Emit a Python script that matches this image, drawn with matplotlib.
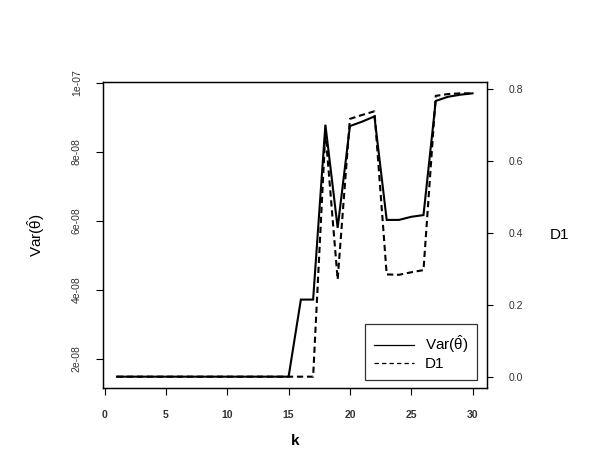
import numpy as np
import matplotlib
matplotlib.use("Agg")
import matplotlib.pyplot as plt
from matplotlib.lines import Line2D

plt.rcParams['font.family'] = ['Liberation Sans', 'DejaVu Sans']
plt.rcParams['mathtext.fontset'] = 'custom'
plt.rcParams['mathtext.rm'] = 'Liberation Sans'
plt.rcParams['mathtext.it'] = 'Liberation Sans:italic'

# data
k = list(range(1, 31))
var_theta = [1.485e-08] * 15 + [3.72e-08, 3.72e-08, 8.79e-08, 5.80e-08, 8.75e-08,
                                8.88e-08, 9.03e-08, 6.03e-08, 6.03e-08, 6.12e-08,
                                6.17e-08, 9.48e-08, 9.60e-08, 9.66e-08, 9.70e-08]
d1 = [0.0] * 17 + [0.68, 0.27, 0.716, 0.727, 0.737, 0.284, 0.283, 0.29,
                   0.296, 0.78, 0.785, 0.787, 0.787]

left_ticks = [2e-08, 4e-08, 6e-08, 8e-08, 1e-07]
left_labels = ["2e-08", "4e-08", "6e-08", "8e-08", "1e-07"]
right_ticks = [0.0, 0.2, 0.4, 0.6, 0.8]
right_labels = ["0.0", "0.2", "0.4", "0.6", "0.8"]
x_ticks = [0, 5, 10, 15, 20, 25, 30]


def rlim(vals):
    # R style 4% padding
    lo, hi = min(vals), max(vals)
    pad = 0.04 * (hi - lo)
    return lo - pad, hi + pad


fig = plt.figure(figsize=(5.89, 4.71), dpi=100)
ax1 = fig.add_axes([0.1744, 0.1762, 0.652, 0.6497])
ax2 = ax1.twinx()

tick_col = '#333333'
ax1.plot(k, var_theta, color='black', lw=1.5, solid_joinstyle='miter')
ax1.set_xlim(rlim(k))
ax1.set_ylim(rlim(var_theta))
ax1.set_xticks(x_ticks)
ax1.set_xticklabels([str(t) for t in x_ticks], fontsize=7.5, fontweight='bold', color=tick_col)
ax1.set_yticks(left_ticks)
ax1.set_yticklabels(left_labels, fontsize=7.5, rotation=90, va='center', color=tick_col)
ax1.tick_params(axis='x', length=5, width=0.8, pad=11)
ax1.tick_params(axis='y', length=5, width=0.8, pad=10)
ax1.set_xlabel('k', fontsize=11, fontweight='bold', labelpad=10)
ax1.set_ylabel(r'$\mathrm{Var}(\hat{\mathrm{\theta}})$', fontsize=11, labelpad=18)

ax2.plot(k, d1, color='black', lw=1.5, dashes=(3, 1.8))
ax2.set_ylim(rlim(d1))
ax2.set_yticks(right_ticks)
ax2.set_yticklabels(right_labels, fontsize=7.5, color=tick_col)
ax2.tick_params(axis='y', length=4, width=0.8, pad=12)
ax2.set_ylabel('D1', fontsize=11, rotation=0, va='center', labelpad=26)

for ax in (ax1, ax2):
    for s in ax.spines.values():
        s.set_linewidth(0.9)

handles = [Line2D([], [], color='black', lw=0.9),
           Line2D([], [], color='black', lw=0.9, dashes=(3.5, 2.5))]
leg = ax2.legend(handles, [r'$\mathrm{Var}(\hat{\mathrm{\theta}})$', 'D1'],
                 loc='lower right', bbox_to_anchor=(0.975, 0.026),
                 fontsize=11, frameon=True, fancybox=False, edgecolor='black',
                 handlelength=2.6, borderpad=0.6, labelspacing=0.1,
                 borderaxespad=0, handletextpad=0.7)
leg._legend_box.sep = 0
leg.get_frame().set_linewidth(0.9)

fig.savefig('out.png', dpi=100)
